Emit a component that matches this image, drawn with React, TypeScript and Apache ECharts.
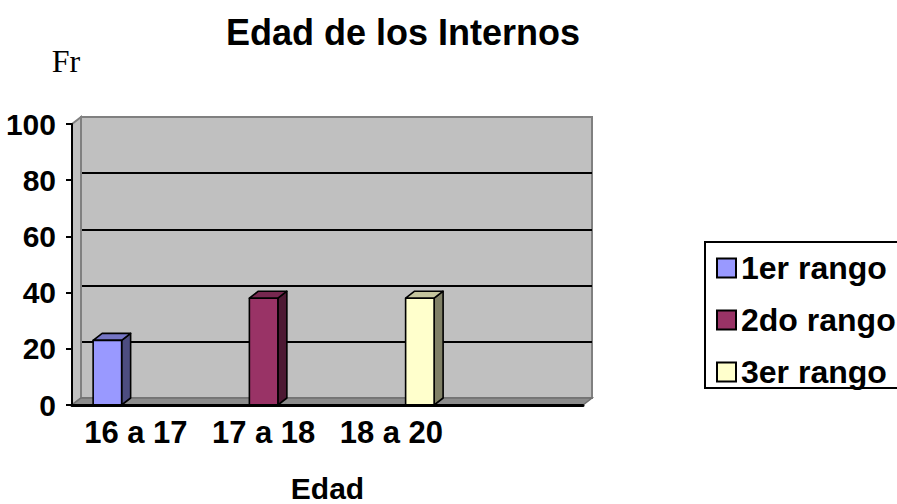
import React, { useEffect, useRef } from 'react';
import * as echarts from 'echarts';

// ---- data ----
const categories = ['16 a 17', '17 a 18', '18 a 20', ''];
const seriesNames = ['1er rango', '2do rango', '3er rango'];
const rango1 = [[0, 23]];
const rango2 = [[1, 38]];
const rango3 = [[2, 38]];
const yMin = 0;
const yMax = 100;
const yInterval = 20;
const chartTitle = 'Edad de los Internos';
const xName = 'Edad';
const yName = 'Fr';

// ---- style ----
const FRONT = ['#9999FF', '#993366', '#FFFFCC'];
const TOP = ['#7575C4', '#76284F', '#C4C49D'];
const SIDE = ['#4D4D80', '#4D1933', '#808066'];
const OFFSETS = [-1, 0, 1];
const DX = 9;
const DY = 7;
const BAR_RATIO = 0.223;
const FONT = '"Liberation Sans", Arial, Helvetica, sans-serif';
const SERIF = '"Liberation Serif", "Times New Roman", Times, serif';

function makeBarRenderer(i: number) {
  return (params: any, api: any) => {
    const cat = api.value(0);
    const val = api.value(1);
    const base = api.coord([cat, 0]);
    const top = api.coord([cat, val]);
    const band = api.size([1, 0])[0];
    const w = band * BAR_RATIO;
    const x0 = base[0] + OFFSETS[i] * w - w / 2;
    const x1 = x0 + w;
    const ty = top[1];
    const by = base[1];
    const stroke = { stroke: '#000', lineWidth: 1.6, lineJoin: 'round' };
    return {
      type: 'group',
      children: [
        {
          type: 'polygon',
          shape: { points: [[x1, by], [x1 + DX, by - DY], [x1 + DX, ty - DY], [x1, ty]] },
          style: { fill: SIDE[i], ...stroke },
        },
        {
          type: 'polygon',
          shape: { points: [[x0, ty], [x0 + DX, ty - DY], [x1 + DX, ty - DY], [x1, ty]] },
          style: { fill: TOP[i], ...stroke },
        },
        {
          type: 'rect',
          shape: { x: x0, y: ty, width: w, height: by - ty },
          style: { fill: FRONT[i], ...stroke },
        },
      ],
    };
  };
}

const frameRender = (params: any) => {
  const cs = params.coordSys;
  const x = cs.x;
  const y = cs.y;
  const w = cs.width;
  const b = cs.y + cs.height;
  return {
    type: 'group',
    children: [
      {
        type: 'polygon',
        shape: { points: [[x, y], [x + DX, y - DY], [x + DX, b - DY], [x, b]] },
        style: { fill: '#C0C0C0', stroke: '#808080', lineWidth: 2 },
      },
      {
        type: 'polygon',
        shape: { points: [[x, b], [x + DX, b - DY], [x + w + DX, b - DY], [x + w, b]] },
        style: { fill: '#8C8C8C', stroke: '#707070', lineWidth: 1.5 },
      },
    ],
  };
};

export default function App() {
  const ref = useRef<HTMLDivElement>(null);

  useEffect(() => {
    if (!ref.current) return;
    const chart = echarts.init(ref.current, null, { renderer: 'svg' });
    const seriesData = [rango1, rango2, rango3];
    const labelStyle = { fontFamily: FONT, fontWeight: 'bold', fontSize: 30, color: '#000' };

    chart.setOption({
      animation: false,
      backgroundColor: '#FFFFFF',
      title: {
        text: chartTitle,
        left: 403,
        top: 14,
        textAlign: 'center',
        padding: 0,
        textStyle: { fontFamily: FONT, fontWeight: 'bold', fontSize: 36, color: '#000' },
      },
      legend: {
        orient: 'vertical',
        left: 705,
        top: 242,
        padding: [10, 11, 0, 11],
        itemGap: 20,
        itemWidth: 19,
        itemHeight: 19,
        icon: 'rect',
        borderColor: '#000',
        borderWidth: 2,
        backgroundColor: '#fff',
        data: seriesNames,
        itemStyle: { borderColor: '#000', borderWidth: 2 },
        textStyle: { ...labelStyle, fontSize: 32, lineHeight: 30 },
      },
      grid: [
        { left: 72, top: 124, width: 511, height: 281, outerBoundsMode: 'none', containLabel: false },
        {
          left: 72 + DX,
          top: 124 - DY,
          width: 511,
          height: 281,
          show: true,
          backgroundColor: '#C0C0C0',
          borderColor: '#808080',
          borderWidth: 2,
          outerBoundsMode: 'none',
          containLabel: false,
        },
      ],
      xAxis: [
        {
          type: 'category',
          gridIndex: 0,
          data: categories,
          z: 10,
          axisLine: { show: true, lineStyle: { color: '#000', width: 3 } },
          axisTick: { show: false },
          axisLabel: { ...labelStyle, fontSize: 31, margin: 12, interval: 0 },
          splitLine: { show: false },
          name: xName,
          nameLocation: 'middle',
          nameGap: 72,
          nameTextStyle: { ...labelStyle, lineHeight: 22 },
        },
        {
          type: 'category',
          gridIndex: 1,
          data: categories,
          show: false,
        },
      ],
      yAxis: [
        {
          type: 'value',
          gridIndex: 0,
          min: yMin,
          max: yMax,
          interval: yInterval,
          z: 10,
          axisLine: { show: true, lineStyle: { color: '#000', width: 2 } },
          axisTick: { show: true, inside: false, length: 6, lineStyle: { color: '#000', width: 2 } },
          axisLabel: { ...labelStyle, margin: 16 },
          splitLine: { show: false },
          name: yName,
          nameLocation: 'end',
          nameGap: 47,
          nameTextStyle: {
            fontFamily: SERIF,
            fontSize: 32,
            fontWeight: 'normal',
            color: '#000',
            padding: [0, 12, 0, 0],
          },
        },
        {
          type: 'value',
          gridIndex: 1,
          min: yMin,
          max: yMax,
          interval: yInterval,
          axisLine: { show: false },
          axisTick: { show: false },
          axisLabel: { show: false },
          splitLine: {
            show: true,
            lineStyle: { color: ['#808080', '#000', '#000', '#000', '#000', '#808080'], width: 2 },
          },
        },
      ],
      series: [
        ...seriesNames.map((name, i) => ({
          type: 'custom',
          name,
          xAxisIndex: 0,
          yAxisIndex: 0,
          z: 3,
          itemStyle: { color: FRONT[i], borderColor: '#000', borderWidth: 2 },
          renderItem: makeBarRenderer(i),
          encode: { x: 0, y: 1 },
          data: seriesData[i],
        })),
        {
          type: 'custom',
          name: 'frame',
          xAxisIndex: 0,
          yAxisIndex: 0,
          z: 1,
          silent: true,
          renderItem: frameRender,
          data: [[0, 0]],
        },
      ],
    });

    return () => chart.dispose();
  }, []);

  return (
    <div
      ref={ref}
      style={{ position: 'fixed', left: 0, top: 0, width: 897, height: 504 }}
    />
  );
}
